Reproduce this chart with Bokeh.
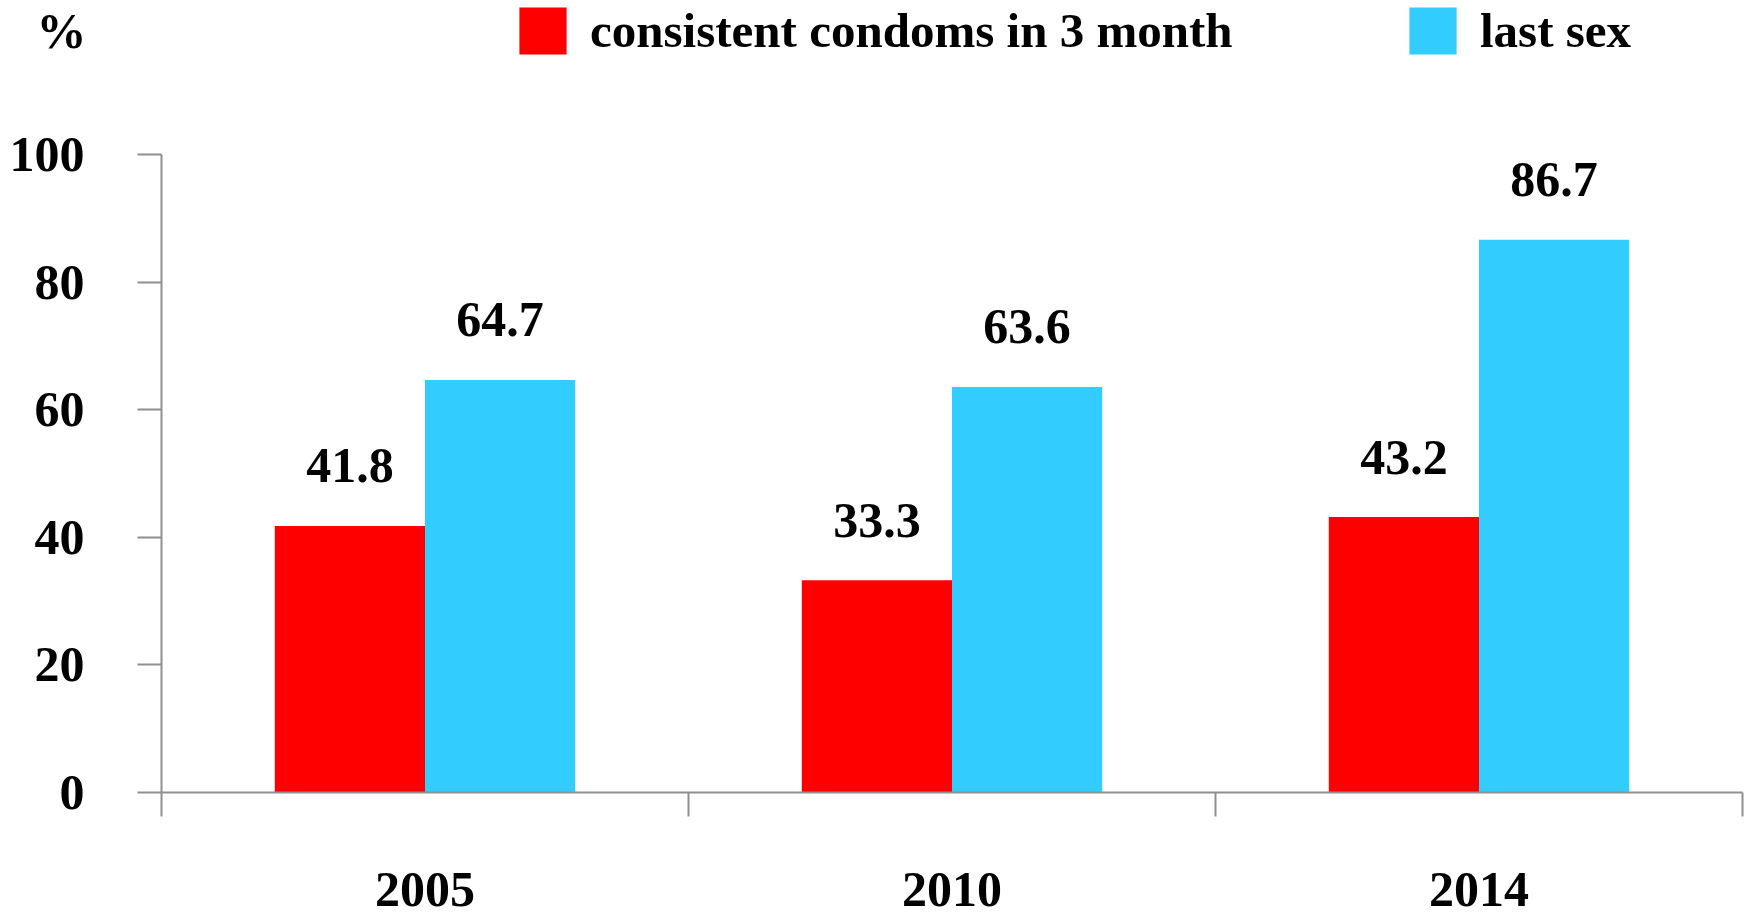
import numpy as np
from bokeh.plotting import figure
from bokeh.models import (ColumnDataSource, Range1d, FixedTicker, Legend, LegendItem)
from bokeh.core.properties import value
from bokeh.embed import file_html
from bokeh.resources import INLINE

# ---- data ----
years = ["2005", "2010", "2014"]
consistent = [41.8, 33.3, 43.2]
last_sex = [64.7, 63.6, 86.7]
series_names = ["consistent condoms in 3 month", "last sex"]
y_ticks = [0, 20, 40, 60, 80, 100]
y_unit = "%"

FONT = "Liberation Serif"
FS = "50px"
RED = "#FF0000"
BLUE = "#33CCFF"
GRAY = "#8f8f8f"

W, H = 1748, 917
FRAME_TOP, FRAME_BOTTOM, FRAME_LEFT, FRAME_RIGHT = 0, 791.7, 161, 1742
# y axis spans 0..100 between page y 791.7 and 154.3; the frame extends above it for the legend
y_end = 100 * (FRAME_BOTTOM - FRAME_TOP) / (FRAME_BOTTOM - 154.3)

centers = np.arange(len(years)) + 0.5
bw = 0.285
src = ColumnDataSource(dict(
    xr=centers - bw / 2, xb=centers + bw / 2,
    red=consistent, blue=last_sex,
    red_lbl=[f"{v:.1f}" for v in consistent],
    blue_lbl=[f"{v:.1f}" for v in last_sex],
))

p = figure(width=W, height=H, output_backend="svg", toolbar_location=None,
           x_range=Range1d(0, len(years)), y_range=Range1d(0, y_end),
           min_border_left=FRAME_LEFT, min_border_right=W - FRAME_RIGHT,
           min_border_top=FRAME_TOP, min_border_bottom=int(round(H - FRAME_BOTTOM)))
p.outline_line_color = None
p.xgrid.visible = False
p.ygrid.visible = False
p.background_fill_color = "white"
p.border_fill_color = "white"

r1 = p.vbar(x="xr", top="red", width=bw, bottom=0, source=src, fill_color=RED, line_color=None)
r2 = p.vbar(x="xb", top="blue", width=bw, bottom=0, source=src, fill_color=BLUE, line_color=None)

for xcol, ycol, tcol in [("xr", "red", "red_lbl"), ("xb", "blue", "blue_lbl")]:
    p.text(x=xcol, y=ycol, text=tcol, source=src, text_align="center", text_baseline="alphabetic",
           y_offset=-60, text_font=value(FONT), text_font_style="bold", text_font_size=FS,
           text_color="black")

# x axis: labels at category centers, boundary ticks as minor ticks
xa = p.xaxis[0]
xa.ticker = FixedTicker(ticks=list(centers), minor_ticks=list(range(len(years) + 1)))
xa.major_label_overrides = {float(c): y for c, y in zip(centers, years)}
xa.major_tick_out = 0
xa.major_tick_in = 0
xa.minor_tick_out = 24
xa.minor_tick_in = 0
xa.minor_tick_line_color = GRAY
xa.minor_tick_line_width = 2
xa.axis_line_color = GRAY
xa.axis_line_width = 2
xa.major_label_standoff = 56
xa.major_label_text_font = FONT
xa.major_label_text_font_style = "bold"
xa.major_label_text_font_size = FS
xa.major_label_text_color = "black"

ya = p.yaxis[0]
ya.bounds = (0, 100)
ya.ticker = FixedTicker(ticks=y_ticks)
ya.major_tick_out = 24
ya.major_tick_in = 0
ya.major_tick_line_color = GRAY
ya.major_tick_line_width = 2
ya.minor_tick_line_color = None
ya.axis_line_color = GRAY
ya.axis_line_width = 2
ya.major_label_standoff = 53
ya.major_label_text_font = FONT
ya.major_label_text_font_style = "bold"
ya.major_label_text_font_size = FS
ya.major_label_text_color = "black"
# unit label at the top of the y axis (second line so it sits below the frame's top edge)
ya.axis_label = "\n" + y_unit
ya.axis_label_orientation = "horizontal"
ya.axis_label_align = "end"
ya.axis_label_standoff = -80
ya.axis_label_text_line_height = 1.08
ya.axis_label_text_font = FONT
ya.axis_label_text_font_style = "bold"
ya.axis_label_text_font_size = FS
ya.axis_label_text_color = "black"

# legends (one per item, inside the top part of the frame)
def make_legend(name, renderer, xloc):
    lg = Legend(items=[LegendItem(label=name, renderers=[renderer])], location=(xloc, 732),
                orientation="horizontal", glyph_width=59, glyph_height=59, label_height=47,
                label_standoff=18, padding=0, margin=0, spacing=0,
                border_line_color=None, background_fill_alpha=0,
                label_text_font=FONT, label_text_font_style="bold", label_text_font_size="49px",
                label_text_color="black")
    p.add_layout(lg, "center")

make_legend(series_names[0], r1, 513 - FRAME_LEFT)
make_legend(series_names[1], r2, 1403 - FRAME_LEFT)

open("out.html", "w").write(file_html(p, INLINE))
